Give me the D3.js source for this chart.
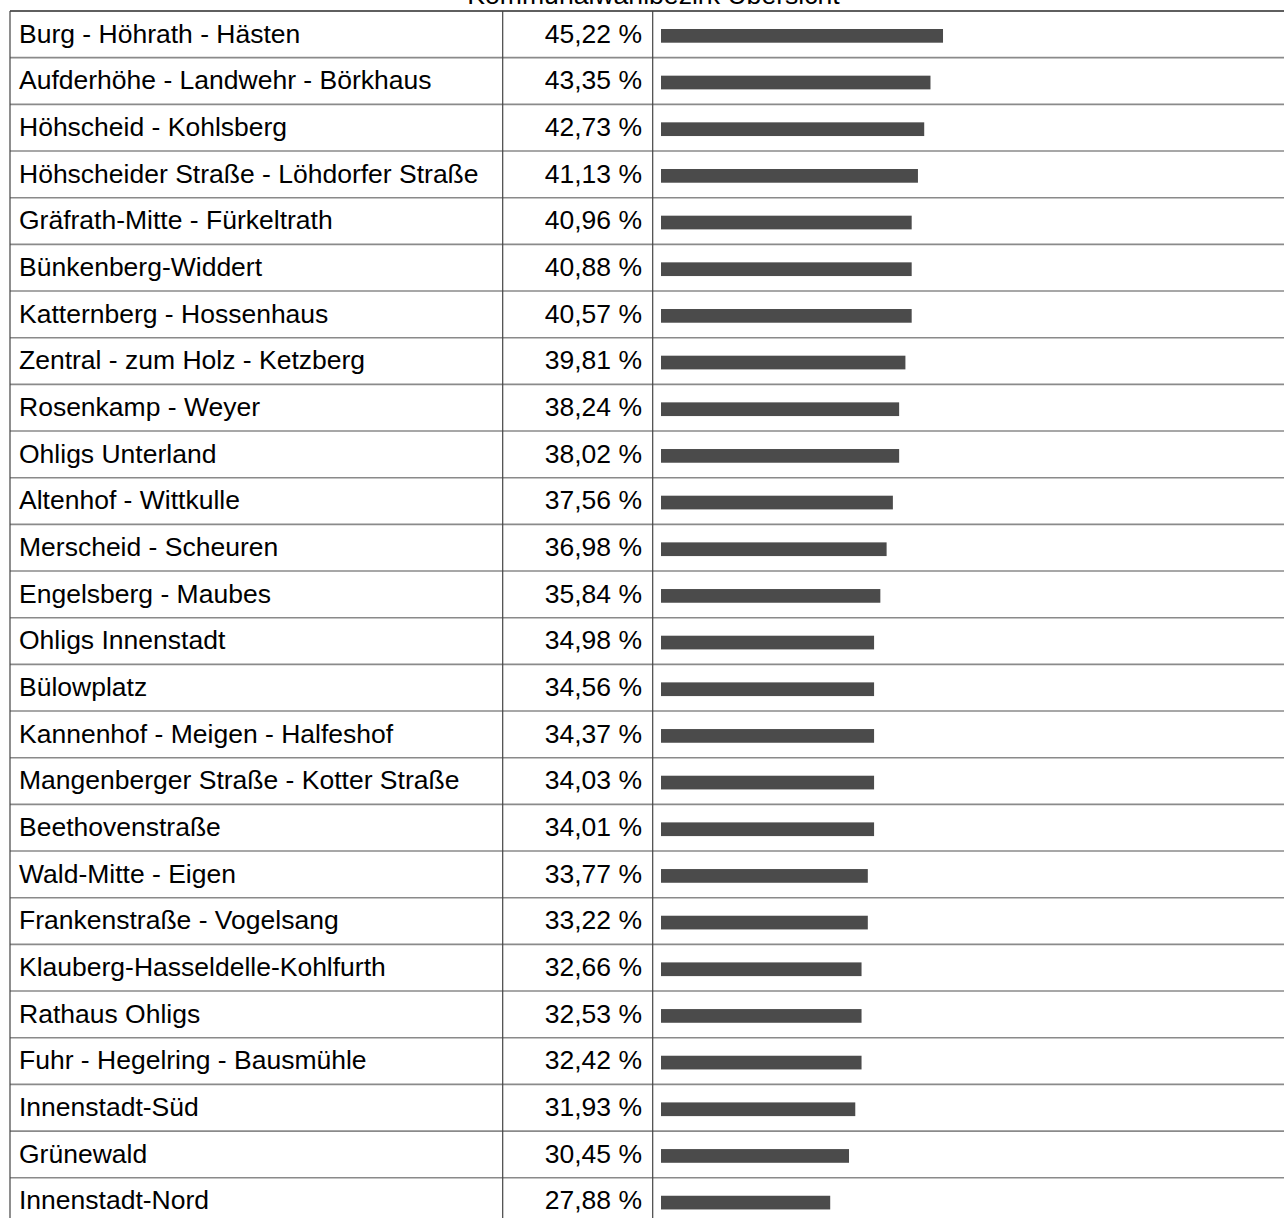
<!DOCTYPE html>
<html>
<head>
<meta charset="utf-8">
<script src="https://cdn.jsdelivr.net/npm/d3@7"></script>
<style>
  html, body { margin: 0; padding: 0; background: #fff; overflow: hidden; }
  svg { display: block; }
  text { font-family: "Liberation Sans", Arial, sans-serif; fill: #000; }
</style>
</head>
<body>
<script>
const title = "Kommunalwahlbezirk Übersicht";
const districts = [
  "Burg - Höhrath - Hästen",
  "Aufderhöhe - Landwehr - Börkhaus",
  "Höhscheid - Kohlsberg",
  "Höhscheider Straße - Löhdorfer Straße",
  "Gräfrath-Mitte - Fürkeltrath",
  "Bünkenberg-Widdert",
  "Katternberg - Hossenhaus",
  "Zentral - zum Holz - Ketzberg",
  "Rosenkamp - Weyer",
  "Ohligs Unterland",
  "Altenhof - Wittkulle",
  "Merscheid - Scheuren",
  "Engelsberg - Maubes",
  "Ohligs Innenstadt",
  "Bülowplatz",
  "Kannenhof - Meigen - Halfeshof",
  "Mangenberger Straße - Kotter Straße",
  "Beethovenstraße",
  "Wald-Mitte - Eigen",
  "Frankenstraße - Vogelsang",
  "Klauberg-Hasseldelle-Kohlfurth",
  "Rathaus Ohligs",
  "Fuhr - Hegelring - Bausmühle",
  "Innenstadt-Süd",
  "Grünewald",
  "Innenstadt-Nord"
];
const shares = [
  45.22, 43.35, 42.73, 41.13, 40.96, 40.88, 40.57, 39.81, 38.24, 38.02,
  37.56, 36.98, 35.84, 34.98, 34.56, 34.37, 34.03, 34.01, 33.77, 33.22,
  32.66, 32.53, 32.42, 31.93, 30.45, 27.88
];

(function () {
const W = 1284, H = 1218;
const rowH = 46.67;
const tableTop = 11;
const colLeft = 10, colDiv1 = 502.7, colDiv2 = 652.7;
const barX0 = 661;

const svg = d3.select("body").append("svg").attr("width", W).attr("height", H);

const rows = districts.map((d, i) => ({ name: d, value: shares[i] }));

const y = d3.scaleBand()
  .domain(districts)
  .range([tableTop, tableTop + rowH * districts.length])
  .padding(0);

const x = d3.scaleLinear().domain([0, 100]).range([0, 626.7]);

const loc = d3.formatLocale({ decimal: ",", thousands: ".", grouping: [3], currency: ["", " €"] });
const fmt = loc.format(".2f");

// title
svg.append("text")
  .attr("x", 653.5).attr("y", 4)
  .attr("text-anchor", "middle")
  .style("font-size", "26.6px")
  .text(title);

// row separators
svg.append("g").selectAll("line")
  .data(rows.slice(1))
  .join("line")
  .attr("x1", colLeft).attr("x2", W)
  .attr("y1", d => y(d.name)).attr("y2", d => y(d.name))
  .attr("stroke", "#8a8a8a").attr("stroke-width", 1.6);

// top border
svg.append("line")
  .attr("x1", colLeft).attr("x2", W)
  .attr("y1", tableTop).attr("y2", tableTop)
  .attr("stroke", "#2a2a2a").attr("stroke-width", 1.4);

// vertical column lines
svg.append("g").selectAll("line")
  .data([colLeft, colDiv1, colDiv2])
  .join("line")
  .attr("x1", d => d).attr("x2", d => d)
  .attr("y1", tableTop).attr("y2", H)
  .attr("stroke", "#444").attr("stroke-width", 1.2);

const g = svg.append("g").selectAll("g")
  .data(rows)
  .join("g")
  .attr("transform", d => `translate(0,${y(d.name)})`);

g.append("text")
  .attr("x", 19).attr("y", 31.5)
  .style("font-size", "26.5px")
  .text(d => d.name);

g.append("text")
  .attr("x", 642).attr("y", 31.5)
  .attr("text-anchor", "end")
  .style("font-size", "26.5px")
  .text(d => fmt(d.value) + " %");

g.append("rect")
  .attr("x", barX0)
  .attr("y", 18)
  .attr("height", 13.7)
  .attr("width", d => x(Math.floor(d.value)))
  .attr("fill", "#4b4b4b");
})();
</script>
</body>
</html>
